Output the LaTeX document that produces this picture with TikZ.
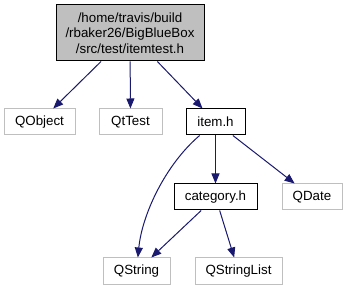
\documentclass[tikz,border=0pt]{standalone}
\usepackage{fontspec}
\setmainfont{Liberation Sans}
\usetikzlibrary{arrows.meta}

\definecolor{edgeblue}{HTML}{191970}
\definecolor{boxgray}{HTML}{BFBFBF}

\begin{document}
\begin{tikzpicture}[x=0.75pt, y=-0.75pt,
    font=\fontsize{10}{11.6}\selectfont,
    file/.style={draw=black, line width=0.75pt, inner sep=0pt, minimum height=19.5pt},
    extfile/.style={draw=boxgray, line width=0.75pt, inner sep=0pt, minimum height=19.5pt},
    dep/.style={draw=edgeblue, line width=0.75pt, -{Triangle[length=7.5pt, width=6pt]}}]
  \useasboundingbox (0,0) rectangle (347,291);

  % the header being documented
  \node [file, fill=boxgray, align=center, minimum width=111pt, minimum height=42pt]
    (itemtest) at (130,33) {/home/travis/build\\/rbaker26/BigBlueBox\\/src/test/itemtest.h};

  % first level
  \node [extfile, minimum width=53.25pt] (qobject) at (39.5,122) {QObject};
  \node [extfile, minimum width=47.25pt] (qttest) at (130.5,122) {QtTest};
  \node [file, minimum width=44.25pt] (item) at (215.5,122) {item.h};

  % second level
  \node [file, minimum width=62.25pt] (category) at (215.5,197) {category.h};
  \node [extfile, minimum width=45pt] (qdate) at (312,197) {QDate};

  % third level
  \node [extfile, minimum width=50.25pt, minimum height=20.25pt] (qstring) at (136.5,271.5) {QString};
  \node [extfile, minimum width=65.25pt, minimum height=20.25pt] (qstringlist) at (238.5,271.5) {QStringList};

  \draw [dep] (itemtest) -- (qobject);
  \draw [dep] (itemtest) -- (qttest);
  \draw [dep] (itemtest) -- (item);

  \draw [dep] (item) .. controls (165,165) and (142,215) .. (qstring);
  \draw [dep] (item) -- (category);
  \draw [dep] (item) -- (qdate);

  \draw [dep] (category) -- (qstring);
  \draw [dep] (category) -- (qstringlist);
\end{tikzpicture}
\end{document}
